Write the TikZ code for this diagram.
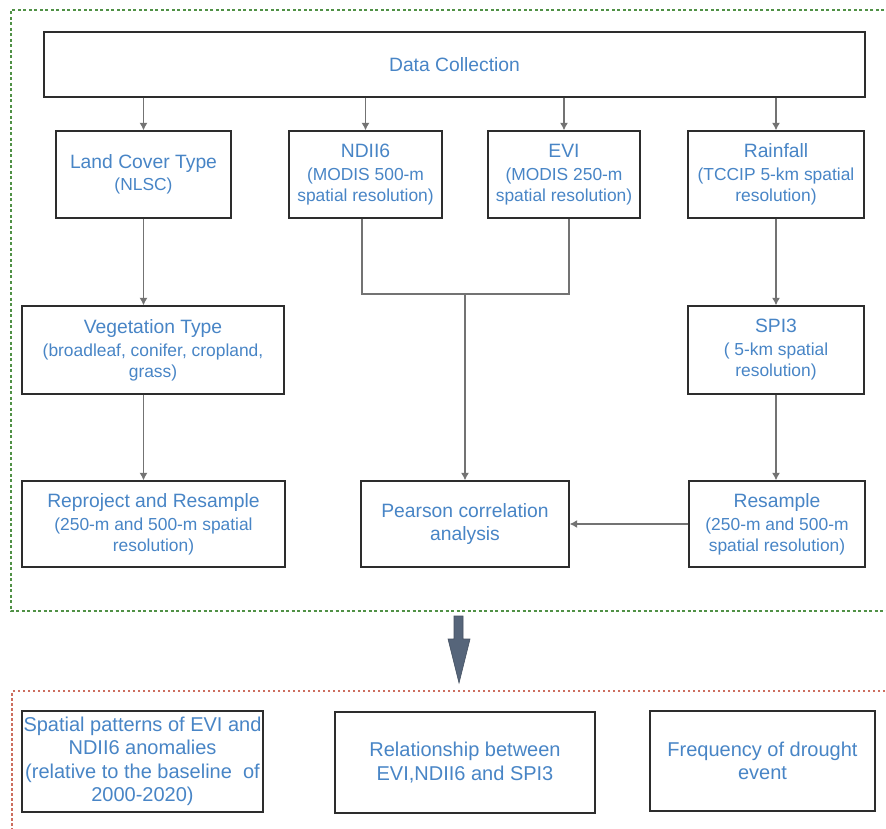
\documentclass[tikz,border=0pt]{standalone}
\usepackage{fontspec}
\setmainfont{Liberation Sans}
\usetikzlibrary{arrows.meta}
\definecolor{txtblue}{RGB}{72,133,198}
\definecolor{boxline}{RGB}{45,45,45}
\definecolor{linkgray}{RGB}{115,115,115}
\definecolor{framegreen}{RGB}{80,145,70}
\definecolor{framered}{RGB}{205,110,95}
\definecolor{bigarrow}{RGB}{86,101,122}
\newcommand{\boxtitle}[1]{{\fontsize{19.3}{23}\selectfont #1}}
\begin{document}
\begin{tikzpicture}[x=1pt,y=-1pt,
  box/.style={draw=boxline,line width=1.3pt,fill=white,text=txtblue,align=center,inner sep=0pt,font=\fontsize{17.4}{21}\selectfont},
  result/.style={box,font=\fontsize{20}{23.5}\selectfont},
  link/.style={draw=linkgray,line width=1.3pt},
  flow/.style={link,-{Latex[length=7.5pt,width=8pt]}}]
\clip (0,0) rectangle (886,829);
\fill[white] (0,0) rectangle (886,829);
\draw[framegreen,line width=1.2pt,dash pattern=on 3pt off 2.5pt] (895,10) -- (11,10) -- (11,611) -- (895,611);
\draw[framered,line width=1.2pt,dash pattern=on 2.5pt off 2.5pt] (895,691) -- (12,691) -- (12,840);

\node[box,minimum width=821pt,minimum height=65pt] (data) at (454.5,64.5) {\boxtitle{Data Collection}};
\node[box,minimum width=175pt,minimum height=87pt] (land) at (143.5,174.5) {\boxtitle{Land Cover Type}\\[1pt](NLSC)};
\node[box,minimum width=153pt,minimum height=87pt] (ndii) at (365.5,174.5) {\boxtitle{NDII6}\\[2pt](MODIS 500-m\\spatial resolution)};
\node[box,minimum width=152pt,minimum height=87pt] (evi) at (564,174.5) {\boxtitle{EVI}\\[2pt](MODIS 250-m\\spatial resolution)};
\node[box,minimum width=176pt,minimum height=87pt] (rain) at (776,174.5) {\boxtitle{Rainfall}\\[2pt](TCCIP 5-km spatial\\resolution)};
\node[box,minimum width=262pt,minimum height=88pt] (veg) at (153,350) {\boxtitle{Vegetation Type}\\[2pt](broadleaf, conifer, cropland,\\grass)};
\node[box,minimum width=176pt,minimum height=88pt] (spi) at (776,350) {\boxtitle{SPI3}\\[2pt]( 5-km spatial\\resolution)};
\node[box,minimum width=263pt,minimum height=86pt] (repro) at (153.5,524) {\boxtitle{Reproject and Resample}\\[2pt](250-m and 500-m spatial\\resolution)};
\node[box,minimum width=208pt,minimum height=86pt] (pearson) at (465,524) {\boxtitle{Pearson correlation}\\[2pt]\boxtitle{analysis}};
\node[box,minimum width=176pt,minimum height=86pt] (resamp) at (777,524) {\boxtitle{Resample}\\[2pt](250-m and 500-m\\spatial resolution)};
\coordinate (merge) at (465,294);

\foreach \n in {land,ndii,evi,rain} \draw[flow] (data.south -| \n.north) -- (\n.north);
\draw[flow] (land.south) -- (land.south |- veg.north);
\draw[flow] (veg.south -| land.south) -- (repro.north -| land.south);
\draw[flow] (rain.south) -- (spi.north);
\draw[flow] (spi.south) -- (resamp.north -| spi.south);
\draw[link] ([xshift=-3.5pt]ndii.south) |- (merge) -| ([xshift=5pt]evi.south);
\draw[flow] (merge) -- (pearson.north);
\draw[flow] (resamp.west) -- (pearson.east);

\filldraw[fill=bigarrow,draw=bigarrow!80!black,line width=0.6pt] (454,616) -- (463,616) -- (463,639) -- (470,639) -- (459,683) -- (448,639) -- (454,639) -- cycle;

\node[result,minimum width=241pt,minimum height=101pt] (spat) at (142.5,761.5) {Spatial patterns of EVI and\\NDII6 anomalies\\(relative to the baseline\ \ of\\2000-2020)};
\node[result,minimum width=260pt,minimum height=101pt] (rel) at (465,762.5) {Relationship between\\EVI,NDII6 and SPI3};
\node[result,minimum width=225pt,minimum height=100pt] (freq) at (762.5,761) {Frequency of drought\\event};
\end{tikzpicture}
\end{document}
